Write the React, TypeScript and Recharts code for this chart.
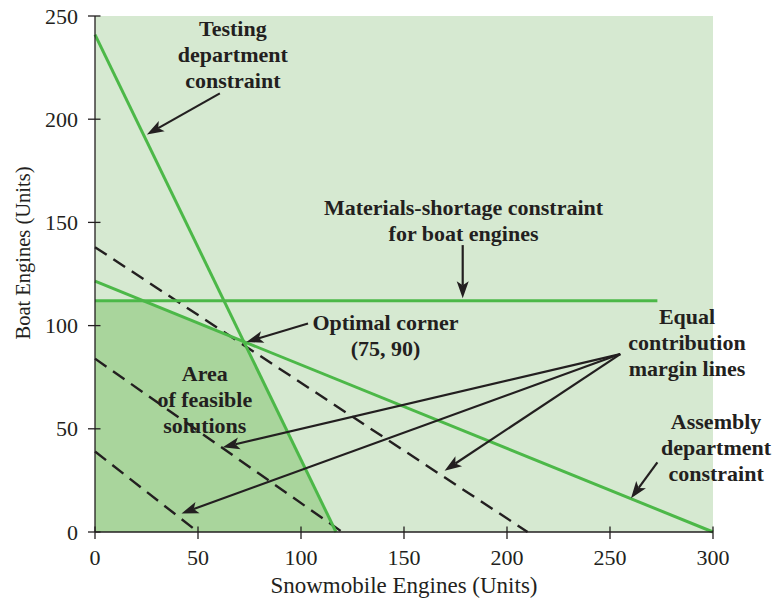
import React from "react";
import { ComposedChart, Area, XAxis, YAxis, CartesianGrid, ReferenceLine, ReferenceDot } from "recharts";

// axis ticks
const xTicks = [0, 50, 100, 150, 200, 250, 300];
const yTicks = [0, 50, 100, 150, 200, 250];

// feasible region corners (snowmobile, boat)
const feasibleX = [0, 23.5, 72.2, 117];
const feasibleY = [112, 112, 92.3, 0];

// constraint lines, [x, y] endpoints
const testingLine = [[0, 241], [117, 0]];
const assemblyLine = [[0, 121.5], [300, 0]];
const materialsLine = [[0, 112], [273, 112]];

// equal contribution margin lines
const marginLines = [
    [[0, 138], [210, 0]],
    [[0, 84], [120, 0]],
    [[0, 39], [50, 0]],
];

// annotation arrows: from -> to
const arrows = [
    [[60.6, 212.5], [25.2, 192.6]],
    [[178.5, 139], [178.5, 113.3]],
    [[103.4, 101], [73.5, 92.1]],
    [[255, 86.2], [62, 41.1]],
    [[255, 86.2], [169.7, 29.7]],
    [[255, 86.2], [42, 9]],
    [[273, 33.7], [260.2, 16.3]],
];

// annotation text blocks: anchor point + lines
const notes = [
    { x: 66.9, y: 244, lines: ["Testing", "department", "constraint"] },
    { x: 178.9, y: 157.3, lines: ["Materials-shortage constraint", "for boat engines"] },
    { x: 141, y: 101.3, lines: ["Optimal corner", "(75, 90)"] },
    { x: 53.3, y: 77, lines: ["Area", "of feasible", "solutions"] },
    { x: 287.4, y: 104.2, lines: ["Equal", "contribution", "margin lines"] },
    { x: 301.5, y: 53.4, lines: ["Assembly", "department", "constraint"] },
];

const feasible = feasibleX.map((x, i) => ({ x, y: feasibleY[i] }));

const INK = "#231f20";
const GREEN = "#4cb848";
const FONT = "'Liberation Serif', serif";

const XTick = ({ x, y, payload }: any) => (
    <g>
        <line x1={x} x2={x} y1={y - 5.5} y2={y + 7} stroke={INK} strokeWidth={1.3} />
        <text x={x} y={y + 25} textAnchor="middle" dominantBaseline="central" fontFamily={FONT} fontSize={22} fill={INK}>
            {payload.value}
        </text>
    </g>
);

const YTick = ({ x, y, payload }: any) => (
    <g>
        <line x1={x - 7} x2={x + 5.5} y1={y} y2={y} stroke={INK} strokeWidth={1.3} />
        <text x={x - 17} y={y} textAnchor="end" dominantBaseline="central" fontFamily={FONT} fontSize={22} fill={INK}>
            {payload.value}
        </text>
    </g>
);

const arrowShape = (p: any) => {
    const { x1, y1, x2, y2 } = p;
    const dx = x2 - x1;
    const dy = y2 - y1;
    const len = Math.hypot(dx, dy);
    const ux = dx / len;
    const uy = dy / len;
    const hl = 17;
    const hw = 6;
    const bx = x2 - ux * hl;
    const by = y2 - uy * hl;
    const pts = [
        [x2, y2],
        [bx - uy * hw, by + ux * hw],
        [bx + ux * 4, by + uy * 4],
        [bx + uy * hw, by - ux * hw],
    ];
    return (
        <g>
            <line x1={x1} y1={y1} x2={bx + ux * 4} y2={by + uy * 4} stroke={INK} strokeWidth={2.2} />
            <polygon points={pts.map((q) => q.join(",")).join(" ")} fill={INK} />
        </g>
    );
};

const noteShape = (lines: string[]) => (p: any) => (
    <text x={p.cx} y={p.cy} textAnchor="middle" fontFamily={FONT} fontSize={22} fontWeight="bold" fill={INK}>
        {lines.map((t, i) => (
            <tspan key={i} x={p.cx} y={p.cy + i * 26} dominantBaseline="central">
                {t}
            </tspan>
        ))}
    </text>
);

const seg = (l: number[][]) => [
    { x: l[0][0], y: l[0][1] },
    { x: l[1][0], y: l[1][1] },
];

export default function App() {
    return (
        <div style={{ position: "absolute", left: 0, top: 0 }}>
            <ComposedChart width={777} height={602} data={feasible} margin={{ top: 16, right: 64, bottom: 0, left: 0 }}>
                <CartesianGrid horizontal={false} vertical={false} fill="#d6e9d1" fillOpacity={1} />
                <XAxis
                    type="number"
                    dataKey="x"
                    domain={[0, 300]}
                    ticks={xTicks}
                    height={70}
                    tickSize={0}
                    tickMargin={0}
                    tickLine={false}
                    tick={XTick}
                    axisLine={{ stroke: INK, strokeWidth: 1.3 }}
                    label={{
                        content: (props: any) => {
                            const vb = props.viewBox;
                            return (
                                <text x={vb.x + vb.width / 2} y={vb.y + 53} textAnchor="middle" dominantBaseline="central" fontFamily={FONT} fontSize={23} fill={INK}>
                                    Snowmobile Engines (Units)
                                </text>
                            );
                        },
                    }}
                />
                <YAxis
                    type="number"
                    domain={[0, 250]}
                    ticks={yTicks}
                    width={95}
                    tickSize={0}
                    tickMargin={0}
                    tickLine={false}
                    tick={YTick}
                    axisLine={{ stroke: INK, strokeWidth: 1.3 }}
                    label={{
                        content: (props: any) => {
                            const vb = props.viewBox;
                            const cy = vb.y + vb.height / 2 - 21;
                            return (
                                <text x={23} y={cy} transform={`rotate(-90 23 ${cy})`} textAnchor="middle" dominantBaseline="central" fontFamily={FONT} fontSize={20.5} fill={INK}>
                                    Boat Engines (Units)
                                </text>
                            );
                        },
                    }}
                />
                <Area dataKey="y" type="linear" fill="#a9d59c" fillOpacity={1} stroke="none" baseValue={0} isAnimationActive={false} />
                {marginLines.map((l, i) => (
                    <ReferenceLine key={`m${i}`} segment={seg(l)} stroke={INK} strokeWidth={2.4} strokeDasharray="14 8" />
                ))}
                <ReferenceLine segment={seg(testingLine)} stroke={GREEN} strokeWidth={3} />
                <ReferenceLine segment={seg(assemblyLine)} stroke={GREEN} strokeWidth={3} />
                <ReferenceLine segment={seg(materialsLine)} stroke={GREEN} strokeWidth={3} />
                {arrows.map((a, i) => (
                    <ReferenceLine key={`a${i}`} segment={seg(a)} ifOverflow="visible" shape={arrowShape} />
                ))}
                {notes.map((n, i) => (
                    <ReferenceDot key={`n${i}`} x={n.x} y={n.y} r={0} ifOverflow="visible" shape={noteShape(n.lines)} />
                ))}
            </ComposedChart>
        </div>
    );
}
